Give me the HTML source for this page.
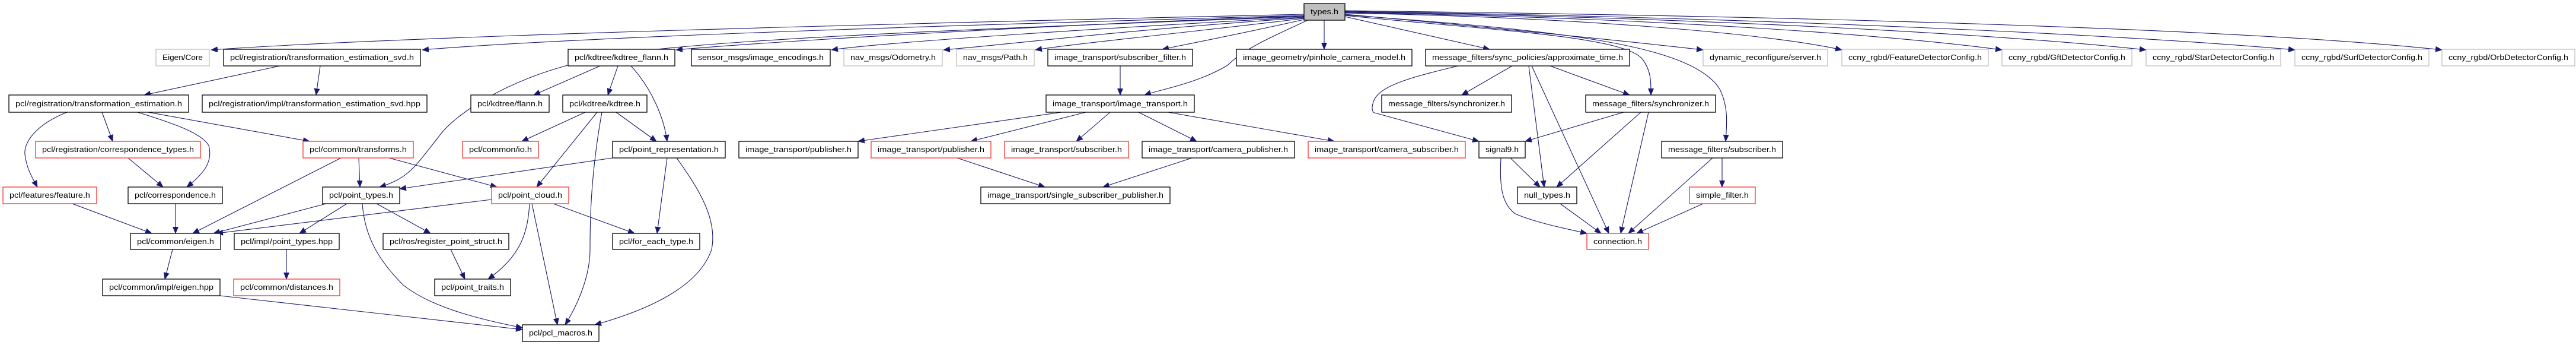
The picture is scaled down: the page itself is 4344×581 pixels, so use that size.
<!DOCTYPE html>
<html><head><meta charset="utf-8"><style>
html,body{margin:0;padding:0;background:#fff;}
svg{display:block;}
text{font-family:"Liberation Sans",sans-serif;font-size:13px;fill:#000;text-anchor:middle;}
.n{fill:#fff;stroke:#000;stroke-width:1.3;}
.r{fill:#fff;stroke:#ff3030;stroke-width:1.3;}
.g{fill:#fff;stroke:#bfbfbf;stroke-width:1.3;}
.e{fill:none;stroke:#191970;stroke-width:1.1;marker-end:url(#a);}
</style></head><body>
<svg width="4344" height="581" viewBox="0 0 4344 581" xmlns="http://www.w3.org/2000/svg">
<defs><marker id="a" markerUnits="userSpaceOnUse" markerWidth="12" markerHeight="10" refX="11" refY="5" orient="auto"><path d="M0,0 L12,5 L0,10 z" fill="#191970"/></marker></defs>
<g>
<!-- edges from types.h -->
<path class="e" d="M2199,24 C1500,40 700,60 356,84"/>
<path class="e" d="M2199,26 C1700,40 1000,60 712,84"/>
<path class="e" d="M2199,28 C1600,50 1100,70 1000,100 C850,130 760,200 740,230 C700,280 690,300 640,315"/>
<path class="e" d="M2199,27 C1800,40 1300,70 1140,84"/>
<path class="e" d="M2199,29 C1900,45 1500,70 1402,84"/>
<path class="e" d="M2199,30 C1900,50 1700,75 1591,84"/>
<path class="e" d="M2199,31 C2000,55 1800,75 1746,84"/>
<path class="e" d="M2199,33 C2100,55 2000,75 1960,83"/>
<path class="e" d="M2205,34 C2150,60 2100,80 2070,110 C2020,140 1960,150 1930,160"/>
<path class="e" d="M2233,34 L2233,83"/>
<path class="e" d="M2268,28 L2512,83"/>
<path class="e" d="M2268,26 C2500,50 2740,60 2770,100 C2785,120 2784,140 2784,160"/>
<path class="e" d="M2268,25 C2600,50 2850,70 2900,150 C2915,180 2912,210 2910,238"/>
<path class="e" d="M2268,24 C2500,45 2750,70 2872,84"/>
<path class="e" d="M2268,22 C2700,30 3000,60 3106,84"/>
<path class="e" d="M2268,21 C2800,30 3200,60 3376,84"/>
<path class="e" d="M2268,20 C2900,30 3400,60 3619,84"/>
<path class="e" d="M2268,19 C3000,30 3600,60 3870,84"/>
<path class="e" d="M2268,18 C3100,28 3800,50 4118,84"/>
<!-- pcl region -->
<path class="e" d="M472,111 L243,160"/>
<path class="e" d="M540,111 L533,160"/>
<path class="e" d="M113,189 C60,210 40,240 42,260 C45,285 55,300 63,315"/>
<path class="e" d="M172,189 L190,238"/>
<path class="e" d="M232,189 C300,210 340,225 352,245 C360,275 340,295 315,315"/>
<path class="e" d="M250,189 L522,238"/>
<path class="e" d="M216,266 L275,315"/>
<path class="e" d="M575,266 L325,393"/>
<path class="e" d="M605,266 L607,315"/>
<path class="e" d="M656,266 L838,315"/>
<path class="e" d="M122,343 L256,393"/>
<path class="e" d="M296,343 L296,393"/>
<path class="e" d="M550,343 L360,393"/>
<path class="e" d="M585,343 L505,393"/>
<path class="e" d="M635,343 L726,393"/>
<path class="e" d="M611,343 C615,400 640,440 680,480 C730,520 820,540 881,552"/>
<path class="e" d="M829,336 L365,393"/>
<path class="e" d="M893,343 C890,390 880,430 823,470"/>
<path class="e" d="M897,343 L940,547"/>
<path class="e" d="M933,343 L1070,393"/>
<path class="e" d="M1033,266 L674,318"/>
<path class="e" d="M1125,266 L1108,393"/>
<path class="e" d="M1141,266 C1180,320 1210,370 1200,420 C1180,480 1100,520 1003,547"/>
<path class="e" d="M760,420 L784,470"/>
<path class="e" d="M291,420 L278,470"/>
<path class="e" d="M483,420 L483,470"/>
<path class="e" d="M371,498 L881,555"/>
<path class="e" d="M1012,111 L900,160"/>
<path class="e" d="M1042,111 L1025,160"/>
<path class="e" d="M1064,111 C1100,150 1120,200 1125,238"/>
<path class="e" d="M987,189 L880,238"/>
<path class="e" d="M1007,189 L905,315"/>
<path class="e" d="M1015,189 C995,300 995,380 995,420 C995,470 970,520 953,547"/>
<path class="e" d="M1039,189 L1107,238"/>
<!-- image_transport -->
<path class="e" d="M1889,111 L1889,160"/>
<path class="e" d="M1790,189 L1447,238"/>
<path class="e" d="M1831,189 L1637,238"/>
<path class="e" d="M1872,189 L1815,238"/>
<path class="e" d="M1920,189 L2018,238"/>
<path class="e" d="M1970,189 L2250,238"/>
<path class="e" d="M1614,266 L1762,315"/>
<path class="e" d="M2010,266 L1860,315"/>
<!-- message_filters -->
<path class="e" d="M2550,111 L2465,160"/>
<path class="e" d="M2459,111 C2380,130 2320,145 2315,175 C2312,185 2316,190 2318,190 L2494,238"/>
<path class="e" d="M2578,111 L2604,315"/>
<path class="e" d="M2583,111 L2713,393"/>
<path class="e" d="M2614,111 L2748,160"/>
<path class="e" d="M2738,189 L2572,238"/>
<path class="e" d="M2767,189 L2625,315"/>
<path class="e" d="M2780,189 L2733,393"/>
<path class="e" d="M2547,266 L2597,315"/>
<path class="e" d="M2531,266 C2528,320 2535,345 2555,360 C2590,375 2640,385 2676,393"/>
<path class="e" d="M2631,343 L2700,393"/>
<path class="e" d="M2888,266 L2746,393"/>
<path class="e" d="M2904,266 L2904,315"/>
<path class="e" d="M2872,343 L2760,393"/>
</g>
<g>
<rect x="2199" y="6" width="69" height="28" fill="#bfbfbf" stroke="#000" stroke-width="1.3"/><text x="2233.5" y="24" textLength="47" lengthAdjust="spacingAndGlyphs">types.h</text>
<!-- row1 -->
<rect class="g" x="263" y="83" width="90" height="28"/><text x="308" y="101" textLength="68" lengthAdjust="spacingAndGlyphs">Eigen/Core</text>
<rect class="n" x="377" y="83" width="332" height="28"/><text x="543" y="101" textLength="310" lengthAdjust="spacingAndGlyphs">pcl/registration/transformation_estimation_svd.h</text>
<rect class="n" x="958" y="83" width="180" height="28"/><text x="1048" y="101" textLength="158" lengthAdjust="spacingAndGlyphs">pcl/kdtree/kdtree_flann.h</text>
<rect class="n" x="1166" y="83" width="234" height="28"/><text x="1283" y="101" textLength="212" lengthAdjust="spacingAndGlyphs">sensor_msgs/image_encodings.h</text>
<rect class="g" x="1423" y="83" width="166" height="28"/><text x="1506" y="101" textLength="144" lengthAdjust="spacingAndGlyphs">nav_msgs/Odometry.h</text>
<rect class="g" x="1613" y="83" width="131" height="28"/><text x="1678.5" y="101" textLength="109" lengthAdjust="spacingAndGlyphs">nav_msgs/Path.h</text>
<rect class="n" x="1767" y="83" width="244" height="28"/><text x="1889" y="101" textLength="222" lengthAdjust="spacingAndGlyphs">image_transport/subscriber_filter.h</text>
<rect class="n" x="2085" y="83" width="296" height="28"/><text x="2233" y="101" textLength="274" lengthAdjust="spacingAndGlyphs">image_geometry/pinhole_camera_model.h</text>
<rect class="n" x="2404" y="83" width="344" height="28"/><text x="2576" y="101" textLength="322" lengthAdjust="spacingAndGlyphs">message_filters/sync_policies/approximate_time.h</text>
<rect class="g" x="2872" y="83" width="210" height="28"/><text x="2977" y="101" textLength="188" lengthAdjust="spacingAndGlyphs">dynamic_reconfigure/server.h</text>
<rect class="g" x="3106" y="83" width="247" height="28"/><text x="3229.5" y="101" textLength="225" lengthAdjust="spacingAndGlyphs">ccny_rgbd/FeatureDetectorConfig.h</text>
<rect class="g" x="3376" y="83" width="219" height="28"/><text x="3485.5" y="101" textLength="197" lengthAdjust="spacingAndGlyphs">ccny_rgbd/GftDetectorConfig.h</text>
<rect class="g" x="3619" y="83" width="227" height="28"/><text x="3732.5" y="101" textLength="205" lengthAdjust="spacingAndGlyphs">ccny_rgbd/StarDetectorConfig.h</text>
<rect class="g" x="3870" y="83" width="226" height="28"/><text x="3983" y="101" textLength="204" lengthAdjust="spacingAndGlyphs">ccny_rgbd/SurfDetectorConfig.h</text>
<rect class="g" x="4118" y="83" width="224" height="28"/><text x="4230" y="101" textLength="202" lengthAdjust="spacingAndGlyphs">ccny_rgbd/OrbDetectorConfig.h</text>
<!-- row2 -->
<rect class="n" x="15" y="160" width="303" height="29"/><text x="166.5" y="179" textLength="281" lengthAdjust="spacingAndGlyphs">pcl/registration/transformation_estimation.h</text>
<rect class="n" x="341" y="160" width="379" height="29"/><text x="530.5" y="179" textLength="357" lengthAdjust="spacingAndGlyphs">pcl/registration/impl/transformation_estimation_svd.hpp</text>
<rect class="n" x="794" y="160" width="132" height="29"/><text x="860" y="179" textLength="110" lengthAdjust="spacingAndGlyphs">pcl/kdtree/flann.h</text>
<rect class="n" x="949" y="160" width="142" height="29"/><text x="1020" y="179" textLength="120" lengthAdjust="spacingAndGlyphs">pcl/kdtree/kdtree.h</text>
<rect class="n" x="1764" y="160" width="250" height="29"/><text x="1889" y="179" textLength="228" lengthAdjust="spacingAndGlyphs">image_transport/image_transport.h</text>
<rect class="n" x="2330" y="160" width="219" height="29"/><text x="2439.5" y="179" textLength="197" lengthAdjust="spacingAndGlyphs">message_filters/synchronizer.h</text>
<rect class="n" x="2674" y="160" width="219" height="29"/><text x="2783.5" y="179" textLength="197" lengthAdjust="spacingAndGlyphs">message_filters/synchronizer.h</text>
<!-- row3 -->
<rect class="r" x="60" y="238" width="278" height="28"/><text x="199" y="256" textLength="256" lengthAdjust="spacingAndGlyphs">pcl/registration/correspondence_types.h</text>
<rect class="r" x="511" y="238" width="186" height="28"/><text x="604" y="256" textLength="164" lengthAdjust="spacingAndGlyphs">pcl/common/transforms.h</text>
<rect class="r" x="780" y="238" width="128" height="28"/><text x="844" y="256" textLength="106" lengthAdjust="spacingAndGlyphs">pcl/common/io.h</text>
<rect class="n" x="1033" y="238" width="190" height="28"/><text x="1128" y="256" textLength="168" lengthAdjust="spacingAndGlyphs">pcl/point_representation.h</text>
<rect class="n" x="1246" y="238" width="201" height="28"/><text x="1346.5" y="256" textLength="179" lengthAdjust="spacingAndGlyphs">image_transport/publisher.h</text>
<rect class="r" x="1469" y="238" width="202" height="28"/><text x="1570" y="256" textLength="180" lengthAdjust="spacingAndGlyphs">image_transport/publisher.h</text>
<rect class="r" x="1694" y="238" width="209" height="28"/><text x="1798.5" y="256" textLength="187" lengthAdjust="spacingAndGlyphs">image_transport/subscriber.h</text>
<rect class="n" x="1926" y="238" width="257" height="28"/><text x="2054.5" y="256" textLength="235" lengthAdjust="spacingAndGlyphs">image_transport/camera_publisher.h</text>
<rect class="r" x="2206" y="238" width="265" height="28"/><text x="2338.5" y="256" textLength="243" lengthAdjust="spacingAndGlyphs">image_transport/camera_subscriber.h</text>
<rect class="n" x="2494" y="238" width="78" height="28"/><text x="2533" y="256" textLength="56" lengthAdjust="spacingAndGlyphs">signal9.h</text>
<rect class="n" x="2802" y="238" width="204" height="28"/><text x="2904" y="256" textLength="182" lengthAdjust="spacingAndGlyphs">message_filters/subscriber.h</text>
<!-- row4 -->
<rect class="r" x="5" y="315" width="158" height="28"/><text x="84" y="333" textLength="136" lengthAdjust="spacingAndGlyphs">pcl/features/feature.h</text>
<rect class="n" x="216" y="315" width="159" height="28"/><text x="295.5" y="333" textLength="137" lengthAdjust="spacingAndGlyphs">pcl/correspondence.h</text>
<rect class="n" x="544" y="315" width="130" height="28"/><text x="609" y="333" textLength="108" lengthAdjust="spacingAndGlyphs">pcl/point_types.h</text>
<rect class="r" x="829" y="315" width="130" height="28"/><text x="894" y="333" textLength="108" lengthAdjust="spacingAndGlyphs">pcl/point_cloud.h</text>
<rect class="n" x="1654" y="315" width="319" height="28"/><text x="1813.5" y="333" textLength="297" lengthAdjust="spacingAndGlyphs">image_transport/single_subscriber_publisher.h</text>
<rect class="n" x="2559" y="315" width="100" height="28"/><text x="2609" y="333" textLength="78" lengthAdjust="spacingAndGlyphs">null_types.h</text>
<rect class="r" x="2849" y="315" width="111" height="28"/><text x="2904.5" y="333" textLength="89" lengthAdjust="spacingAndGlyphs">simple_filter.h</text>
<!-- row5 -->
<rect class="n" x="220" y="393" width="152" height="27"/><text x="296" y="411" textLength="130" lengthAdjust="spacingAndGlyphs">pcl/common/eigen.h</text>
<rect class="n" x="395" y="393" width="177" height="27"/><text x="483.5" y="411" textLength="155" lengthAdjust="spacingAndGlyphs">pcl/impl/point_types.hpp</text>
<rect class="n" x="646" y="393" width="212" height="27"/><text x="752" y="411" textLength="190" lengthAdjust="spacingAndGlyphs">pcl/ros/register_point_struct.h</text>
<rect class="n" x="1033" y="393" width="147" height="27"/><text x="1106.5" y="411" textLength="125" lengthAdjust="spacingAndGlyphs">pcl/for_each_type.h</text>
<rect class="r" x="2676" y="393" width="104" height="27"/><text x="2728" y="411" textLength="82" lengthAdjust="spacingAndGlyphs">connection.h</text>
<!-- row6 -->
<rect class="n" x="173" y="470" width="198" height="28"/><text x="272" y="488" textLength="176" lengthAdjust="spacingAndGlyphs">pcl/common/impl/eigen.hpp</text>
<rect class="r" x="394" y="470" width="179" height="28"/><text x="483.5" y="488" textLength="157" lengthAdjust="spacingAndGlyphs">pcl/common/distances.h</text>
<rect class="n" x="733" y="470" width="128" height="28"/><text x="797" y="488" textLength="106" lengthAdjust="spacingAndGlyphs">pcl/point_traits.h</text>
<!-- row7 -->
<rect class="n" x="881" y="547" width="129" height="28"/><text x="945.5" y="565" textLength="107" lengthAdjust="spacingAndGlyphs">pcl/pcl_macros.h</text>
</g>
</svg>
</body></html>
